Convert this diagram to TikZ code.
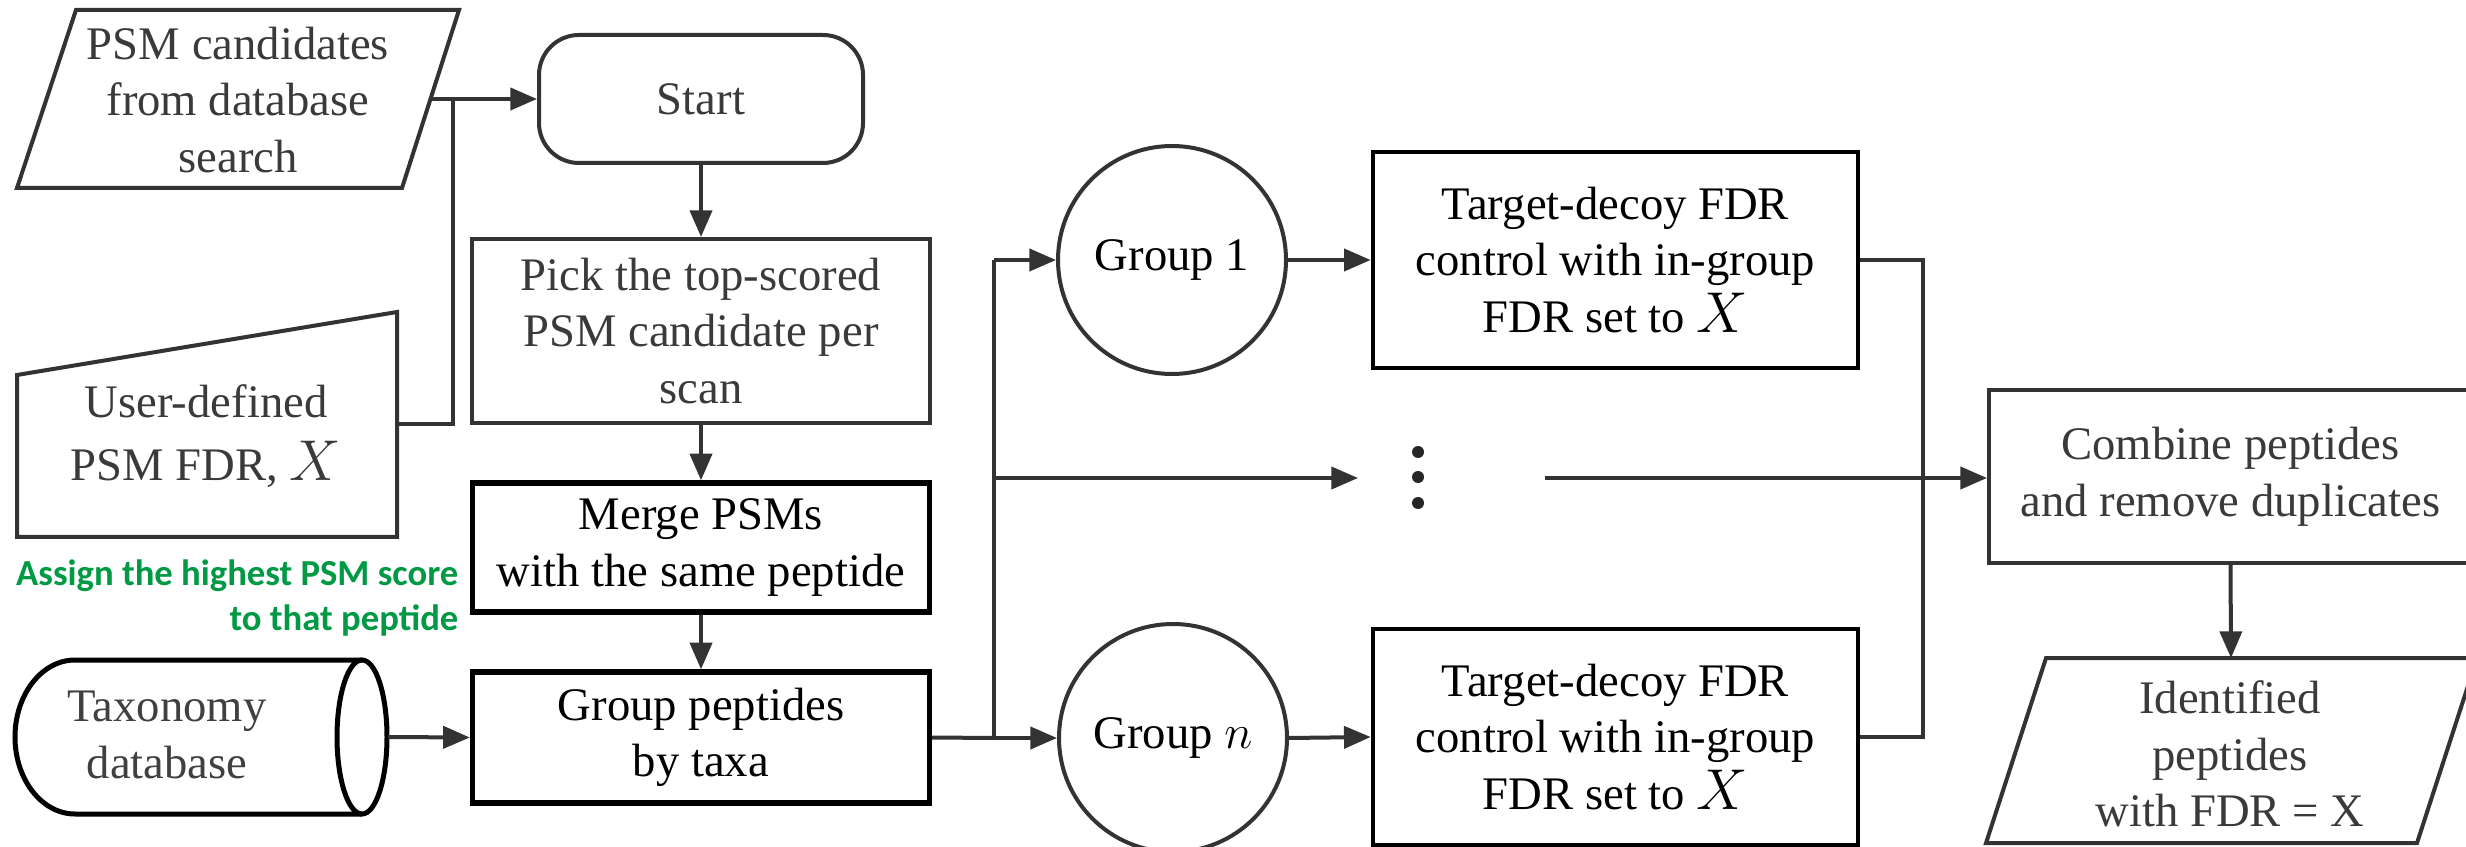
\documentclass[tikz,border=0pt]{standalone}
\usepackage{fontspec}
\setmainfont{Liberation Serif}
\newfontfamily\greenfont{Carlito}
\usetikzlibrary{arrows.meta,shapes.geometric}
\definecolor{lc}{HTML}{333333}
\definecolor{txt}{HTML}{3A3A3A}
\definecolor{gtxt}{RGB}{0,153,68}
\newcommand\mainfs{\fontsize{14}{17}\selectfont}
\newcommand\bigX{{\fontsize{18}{17}\selectfont$X$}}
\begin{document}
\begin{tikzpicture}[x=0.3pt,y=-0.3pt,
  ln/.style={draw=lc,line width=1.2pt},
  arr/.style={ln,-{Triangle[length=8pt,width=6.6pt]}},
  box/.style={ln,rectangle,align=center,inner sep=0pt,text=txt,font=\mainfs},
  boldbox/.style={box,draw=black,line width=1.6pt,text=black},
  lbl/.style={align=center,inner sep=0pt,text=txt,font=\mainfs},
  grpc/.style={ln,circle,minimum size=68.4pt,inner sep=0pt,text=black,font=\mainfs}]
\useasboundingbox (0,0) rectangle (2466,847);
\clip (0,0) rectangle (2466,847);

% PSM candidates parallelogram
\draw[ln] (76,10) -- (459,10) -- (402,188) -- (17,188) -- cycle;
\node[lbl] (psm) at (238,100) {PSM candidates\\from database\\search};
\coordinate (psmR) at (431,99);

% Start
\node[box,rounded corners=12pt,minimum width=97.2pt,minimum height=38.4pt] (start) at (701,99) {Start};

% User-defined (manual input)
\draw[ln] (17,375) -- (397,312) -- (397,537) -- (17,537) -- cycle;
\node[lbl] (user) at (206,436) {User-defined\\[2pt]PSM FDR, \bigX};
\coordinate (userR) at (397,424);
\coordinate (j) at (453,424);
\coordinate (jt) at (453,99);

% Pick, Merge, Group peptides
\node[box,minimum width=137.4pt,minimum height=55.2pt] (pick) at (701,331) {Pick the top-scored\\PSM candidate per\\scan};
\node[boldbox,minimum width=137.1pt,minimum height=38.7pt] (merge) at (701,547.5) {Merge PSMs\\with the same peptide};
\node[boldbox,minimum width=137.1pt,minimum height=39.3pt] (grp) at (701,737.5) {Group peptides\\by taxa};

% green note
\node[align=right,anchor=east,inner sep=0pt,text=gtxt,font={\greenfont\bfseries\fontsize{11}{13.5}\selectfont}] (note) at (459,598) {Assign the highest PSM score\\to that peptide};

% Taxonomy cylinder
\draw[draw=black,line width=1.5pt] (362,660) -- (75,660) arc[start angle=270,end angle=90,x radius=60,y radius=77] -- (362,814);
\draw[draw=black,line width=1.5pt] (362,737) ellipse[x radius=25,y radius=77];
\node[lbl,text=black!75] (tax) at (167,735) {Taxonomy\\database};
\coordinate (taxR) at (388,737);

% groups
\node[grpc] (g1) at (1172,260) {Group 1};
\node[grpc] (gn) at (1173,738) {Group $n$};
\node[boldbox,line width=1.4pt,minimum width=145.5pt,minimum height=64.8pt] (t1) at (1615.5,260) {Target-decoy FDR\\control with in-group\\FDR set to \bigX};
\node[boldbox,line width=1.4pt,minimum width=145.5pt,minimum height=64.8pt] (tn) at (1615.5,737) {Target-decoy FDR\\control with in-group\\FDR set to \bigX};

% dots
\fill[black!85] (1418,452) circle[radius=6] (1418,477) circle[radius=6] (1418,503) circle[radius=6];
\coordinate (busT) at (994,260);
\coordinate (busM) at (994,478);
\coordinate (busB) at (994,738);
\coordinate (dotsL) at (1358,478);
\coordinate (dotsR) at (1545,478);
\coordinate (cT) at (1923,260);
\coordinate (cB) at (1923,737);

% combine, identified
\node[box,minimum width=144.9pt,minimum height=51.9pt] (comb) at (2230.5,476.5) {Combine peptides\\and remove duplicates};
\draw[ln] (2046,658) -- (2477,658) -- (2417,843) -- (1986,843) -- cycle;
\node[lbl] (ident) at (2230,754) {Identified\\peptides\\with FDR = X};
\coordinate (identT) at (2231,658);

% connectors
\draw[arr] (psmR) -- (start.west);
\draw[ln] (userR) -- (j) -- (jt);
\draw[arr] (start.south) -- (pick.north);
\draw[arr] (pick.south) -- (merge.north);
\draw[arr] (merge.south) -- (grp.north);
\draw[arr] (taxR) -- (grp.west);
\draw[ln] (grp.east) -- (busB);
\draw[ln] (busT) -- (busB);
\draw[arr] (busT) -- (g1.west);
\draw[arr] (busM) -- (dotsL);
\draw[arr] (busB) -- (gn.west);
\draw[arr] (g1.east) -- (t1.west);
\draw[arr] (gn.east) -- (tn.west);
\draw[ln] (t1.east) -- (cT) -- (cB) -- (tn.east);
\draw[arr] (dotsR) -- (dotsR -| comb.west);
\draw[arr] (comb.south) -- (identT);
\end{tikzpicture}
\end{document}
